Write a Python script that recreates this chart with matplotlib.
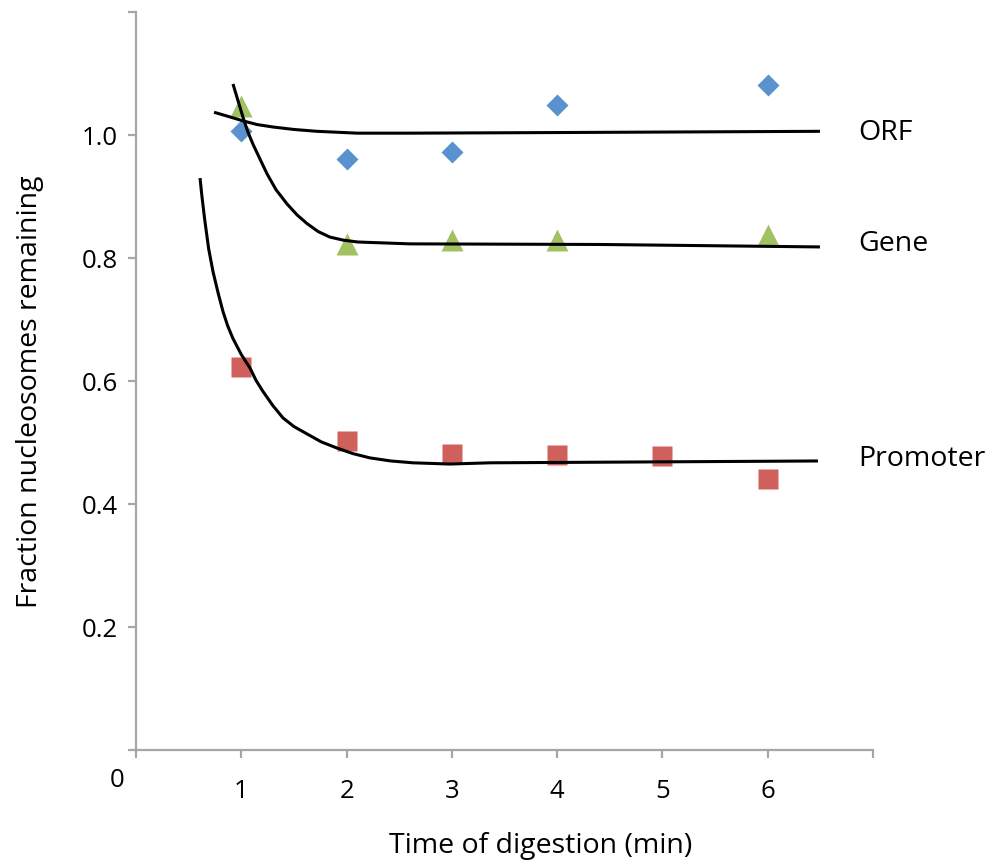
import matplotlib
matplotlib.use("Agg")
import matplotlib.pyplot as plt

plt.rcParams["font.family"] = ["Open Sans", "DejaVu Sans"]

# measured points
orf_x = [1, 2, 3, 4, 6]
orf_y = [1.006, 0.961, 0.972, 1.049, 1.082]
gene_x = [1, 2, 3, 4, 6]
gene_y = [1.047, 0.823, 0.829, 0.830, 0.837]
promoter_x = [1, 2, 3, 4, 5, 6]
promoter_y = [0.622, 0.502, 0.481, 0.480, 0.478, 0.440]

# fitted curves
orf_fit_x = [0.741, 0.88, 1.016, 1.15, 1.301, 1.5, 1.719, 2.099, 2.602, 4.0, 6.496]
orf_fit_y = [1.037, 1.030, 1.023, 1.017, 1.013, 1.009, 1.006, 1.003, 1.003, 1.004, 1.006]
gene_fit_x = [0.921, 0.97, 1.016, 1.06, 1.111, 1.18, 1.244, 1.33, 1.434, 1.53,
              1.624, 1.73, 1.842, 1.97, 2.108, 2.602, 4.406, 6.496]
gene_fit_y = [1.083, 1.055, 1.029, 1.006, 0.985, 0.960, 0.937, 0.911, 0.888, 0.870,
              0.856, 0.843, 0.834, 0.829, 0.826, 0.823, 0.822, 0.818]
prom_fit_x = [0.608, 0.625, 0.64, 0.655, 0.69, 0.731, 0.78, 0.826, 0.87, 0.921,
              1.0, 1.083, 1.14, 1.206, 1.30, 1.396, 1.50, 1.624, 1.76,
              1.909, 2.06, 2.222, 2.42, 2.631, 2.982, 3.362, 4.406, 6.477]
prom_fit_y = [0.930, 0.902, 0.880, 0.859, 0.815, 0.778, 0.743, 0.713, 0.690, 0.669,
              0.643, 0.621, 0.601, 0.583, 0.560, 0.540, 0.526, 0.514, 0.501,
              0.491, 0.482, 0.475, 0.470, 0.467, 0.465, 0.467, 0.468, 0.470]

x_ticks = [0, 1, 2, 3, 4, 5, 6, 7]
x_labels = ["", "1", "2", "3", "4", "5", "6", ""]
y_ticks = [0, 0.2, 0.4, 0.6, 0.8, 1.0, 1.2]
y_labels = ["", "0.2", "0.4", "0.6", "0.8", "1.0", ""]

BLUE = "#5a92d0"
GREEN = "#a2c163"
RED = "#cf605b"
GREY = "#a6a6a6"

fig = plt.figure(figsize=(9.95, 8.63), dpi=100)
ax = fig.add_axes([0.1367, 0.1309, 0.7407, 0.8552])

ax.plot(orf_x, orf_y, "D", color=BLUE, ms=11.5, mec="none", zorder=2)
ax.plot(gene_x, gene_y, "^", color=GREEN, ms=15.5, mec="none", zorder=2)
ax.plot(promoter_x, promoter_y, "s", color=RED, ms=15, mec="none", zorder=2)

for fx, fy in [(orf_fit_x, orf_fit_y), (gene_fit_x, gene_fit_y), (prom_fit_x, prom_fit_y)]:
    ax.plot(fx, fy, color="black", lw=2.2, zorder=3, solid_capstyle="butt",
            solid_joinstyle="round")

ax.set_xlim(0, 7)
ax.set_ylim(0, 1.2)
ax.set_xticks(x_ticks)
ax.set_xticklabels(x_labels)
ax.set_yticks(y_ticks)
ax.set_yticklabels(y_labels)

for s in ["top", "right"]:
    ax.spines[s].set_visible(False)
for s in ["left", "bottom"]:
    ax.spines[s].set_color(GREY)
    ax.spines[s].set_linewidth(1.6)
ax.tick_params(axis="both", direction="out", length=6, width=1.6, color=GREY,
               labelsize=18.5)
ax.tick_params(axis="x", pad=15)
ax.tick_params(axis="y", pad=7)

ax.annotate("0", xy=(0, 0), xytext=(-19, -30), textcoords="offset pixels",
            ha="center", va="center", fontsize=18.5, annotation_clip=False)

for name, yv in [("ORF", 1.003), ("Gene", 0.822), ("Promoter", 0.474)]:
    ax.text(6.86, yv, name, fontsize=20.5, ha="left", va="center", clip_on=False)

fig.text(0.543, 0.0116, "Time of digestion (min)", fontsize=20.5, ha="center",
         va="baseline")
fig.text(0.030, 0.546, "Fraction nucleosomes remaining", fontsize=20.5,
         rotation=90, ha="center", va="center")

fig.savefig("out.png", dpi=100)
